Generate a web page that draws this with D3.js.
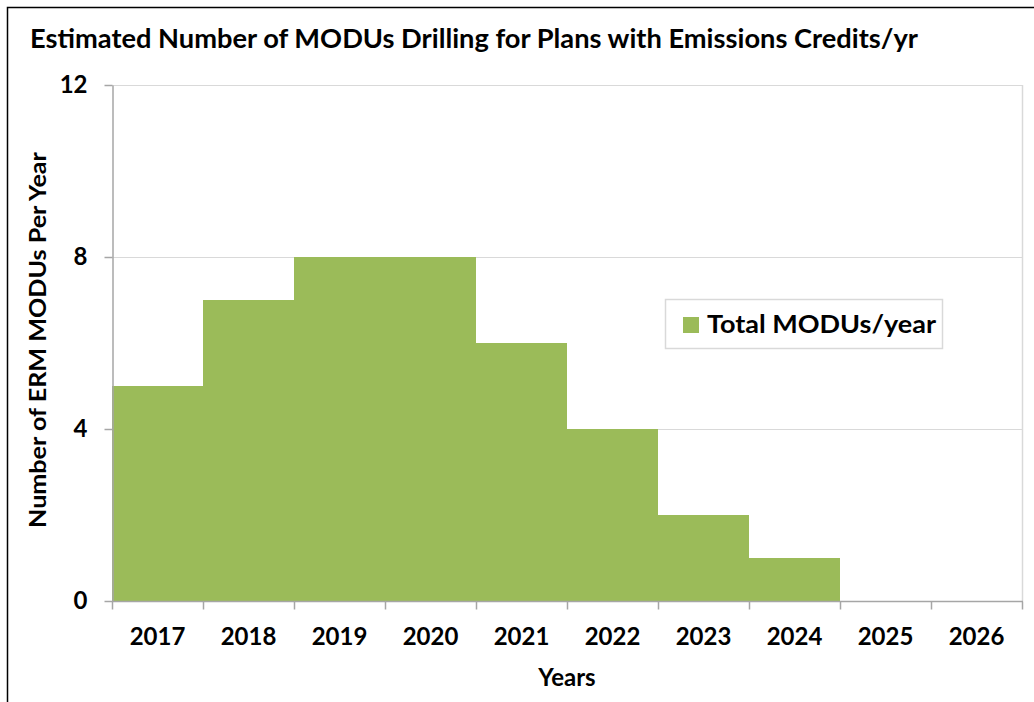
<!DOCTYPE html>
<html>
<head>
<meta charset="utf-8">
<script src="https://cdn.jsdelivr.net/npm/d3@7/dist/d3.min.js"></script>
<style>
  html, body { margin: 0; padding: 0; background: #fff; }
  svg { display: block; }
  text { font-family: Lato, "Open Sans", "Liberation Sans", sans-serif; font-weight: bold; fill: #000; }
</style>
</head>
<body>
<script>
const categories = ["2017", "2018", "2019", "2020", "2021", "2022", "2023", "2024", "2025", "2026"];
const values = [5, 7, 8, 8, 6, 4, 2, 1, 0, 0];
const yTicks = [0, 4, 8, 12];
const seriesName = "Total MODUs/year";
const title = "Estimated Number of MODUs Drilling for Plans with Emissions Credits/yr";
const xTitle = "Years";
const yTitle = "Number of ERM MODUs Per Year";

const W = 1034, H = 702;
const pLeft = 112, pRight = 1022, pTop = 85, pBottom = 601;
const barColor = "#9BBB59";

const svg = d3.select("body").append("svg").attr("width", W).attr("height", H);
svg.append("rect").attr("width", W).attr("height", H).attr("fill", "#fff");

// outer chart border (cropped on right/bottom)
svg.append("path").attr("d", `M7.5,${H} V7.5 H${W}`).attr("fill", "none")
  .attr("stroke", "#000").attr("stroke-width", 1.5);

const x = d3.scaleBand().domain(categories).range([pLeft, pRight]).padding(0);
const y = d3.scaleLinear().domain([0, 12]).range([pBottom, pTop]);

// gridlines
svg.append("g").selectAll("line").data(yTicks.filter(d => d > 0)).join("line")
  .attr("x1", pLeft).attr("x2", pRight)
  .attr("y1", d => Math.round(y(d)) + 0.5).attr("y2", d => Math.round(y(d)) + 0.5)
  .attr("stroke", "#d9d9d9").attr("stroke-width", 1);
// plot right border
svg.append("line").attr("x1", pRight + 0.5).attr("x2", pRight + 0.5).attr("y1", pTop).attr("y2", pBottom)
  .attr("stroke", "#d9d9d9").attr("stroke-width", 1.5);

// bars
svg.append("g").selectAll("rect").data(categories.map((c, i) => ({c, v: values[i]}))).join("rect")
  .attr("x", d => x(d.c)).attr("width", x.bandwidth())
  .attr("y", d => y(d.v)).attr("height", d => y(0) - y(d.v))
  .attr("fill", barColor);

// y axis
const yAxis = svg.append("g").attr("transform", `translate(${pLeft + 0.5},0)`)
  .call(d3.axisLeft(y).tickValues(yTicks).tickSize(8).tickPadding(17).tickSizeOuter(0));
yAxis.select(".domain").attr("stroke", "#a6a6a6").attr("stroke-width", 1.5);
yAxis.selectAll(".tick line").attr("stroke", "#a6a6a6").attr("stroke-width", 1.5);
yAxis.selectAll(".tick text").attr("font-size", 24).attr("font-family", null).attr("fill", "#000");

// x axis line + boundary ticks
const xAxis = svg.append("g").attr("transform", `translate(0,${pBottom + 0.5})`);
xAxis.append("line").attr("x1", pLeft).attr("x2", pRight + 1).attr("stroke", "#a6a6a6").attr("stroke-width", 1.5);
const bounds = categories.map(c => x(c)).concat([pRight]);
xAxis.selectAll("line.tk").data(bounds).join("line").attr("class", "tk")
  .attr("x1", d => Math.round(d) + 0.5).attr("x2", d => Math.round(d) + 0.5)
  .attr("y1", 0).attr("y2", 8).attr("stroke", "#a6a6a6").attr("stroke-width", 1.5);
xAxis.selectAll("text").data(categories).join("text")
  .attr("x", d => x(d) + x.bandwidth() / 2).attr("y", 43)
  .attr("text-anchor", "middle").attr("font-size", 24).text(d => d);

// titles
svg.append("text").attr("x", 30).attr("y", 48).attr("font-size", 27)
  .attr("textLength", 888).attr("lengthAdjust", "spacingAndGlyphs").text(title);
svg.append("text").attr("x", (pLeft + pRight) / 2).attr("y", 686).attr("text-anchor", "middle")
  .attr("font-size", 24).text(xTitle);
svg.append("text").attr("transform", `translate(46,${(pTop + pBottom) / 2 - 3}) rotate(-90)`)
  .attr("text-anchor", "middle").attr("font-size", 23)
  .attr("textLength", 376).attr("lengthAdjust", "spacingAndGlyphs").text(yTitle);

// legend
const lg = svg.append("g");
lg.append("rect").attr("x", 665.5).attr("y", 299.5).attr("width", 277).attr("height", 49)
  .attr("fill", "#fff").attr("stroke", "#d9d9d9").attr("stroke-width", 1.5);
lg.append("rect").attr("x", 683).attr("y", 317).attr("width", 16).attr("height", 16).attr("fill", barColor);
lg.append("text").attr("x", 707).attr("y", 333).attr("font-size", 24)
  .attr("textLength", 229).attr("lengthAdjust", "spacingAndGlyphs").text(seriesName);
</script>
</body>
</html>
